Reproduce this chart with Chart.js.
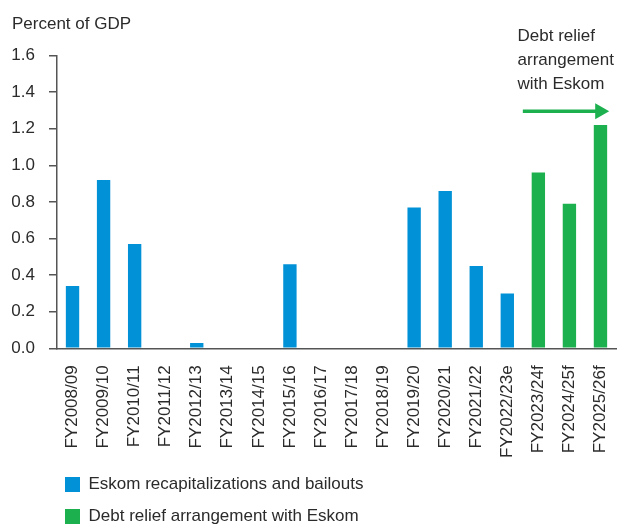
<!DOCTYPE html>
<html>
<head>
<meta charset="utf-8">
<script src="https://cdn.jsdelivr.net/npm/chart.js@4/dist/chart.umd.min.js"></script>
<style>
  html, body { margin: 0; padding: 0; background: #fff; }
  #wrap { width: 619px; height: 525px; }
</style>
</head>
<body>
<div id="wrap"><canvas id="grafico"></canvas></div>
<script>
const categorias = ['FY2008/09', 'FY2009/10', 'FY2010/11', 'FY2011/12', 'FY2012/13', 'FY2013/14',
  'FY2014/15', 'FY2015/16', 'FY2016/17', 'FY2017/18', 'FY2018/19', 'FY2019/20', 'FY2020/21',
  'FY2021/22', 'FY2022/23e', 'FY2023/24f', 'FY2024/25f', 'FY2025/26f'];
const recapitalizacoes = [0.34, 0.92, 0.57, 0, 0.03, 0, 0, 0.46, 0, 0, 0, 0.77, 0.86, 0.45, 0.30, null, null, null];
const alivioDivida = [null, null, null, null, null, null, null, null, null, null, null, null, null, null, null, 0.96, 0.79, 1.22];
const yTicks = [0, 0.2, 0.4, 0.6, 0.8, 1.0, 1.2, 1.4, 1.6];
const notaLinhas = ['Debt relief', 'arrangement', 'with Eskom'];

const AZUL = '#0091d6';
const VERDE = '#1db04f';
const TEXTO = '#2b2b2b';
const EIXO = '#555555';

Chart.defaults.font.family = "'Liberation Sans', Arial, sans-serif";
Chart.defaults.font.size = 17;
Chart.defaults.color = TEXTO;

// seta e texto da nota sobre as previsoes
const notaPlugin = {
  id: 'nota',
  afterDatasetsDraw(chart) {
    const ctx = chart.ctx;
    const x = chart.scales.x, y = chart.scales.y;
    ctx.save();
    ctx.fillStyle = TEXTO;
    ctx.font = "17px 'Liberation Sans', Arial, sans-serif";
    ctx.textAlign = 'left';
    ctx.textBaseline = 'middle';
    const tx = x.getPixelForValue(14.33);
    const ty = y.getPixelForValue(1.705);
    notaLinhas.forEach((l, i) => ctx.fillText(l, tx, ty + i * 24));

    const x0 = x.getPixelForValue(14.5);
    const x1 = x.getPixelForValue(17.28);
    const ay = y.getPixelForValue(1.295);
    ctx.strokeStyle = VERDE;
    ctx.fillStyle = VERDE;
    ctx.lineWidth = 3.5;
    ctx.beginPath();
    ctx.moveTo(x0, ay);
    ctx.lineTo(x1 - 12, ay);
    ctx.stroke();
    ctx.beginPath();
    ctx.moveTo(x1, ay);
    ctx.lineTo(x1 - 14, ay - 8);
    ctx.lineTo(x1 - 14, ay + 8);
    ctx.closePath();
    ctx.fill();
    ctx.restore();
  }
};

// legenda empilhada e deslocada para a direita
const legendaPlugin = {
  id: 'legendaPos',
  afterLayout(chart) {
    chart.legend.left = 50;
    chart.legend.top = 461;
  }
};

new Chart(document.getElementById('grafico'), {
  type: 'bar',
  data: {
    labels: categorias,
    datasets: [{
      label: 'Eskom recapitalizations and bailouts',
      data: recapitalizacoes,
      backgroundColor: AZUL,
      grouped: false,
      barPercentage: 0.43,
      categoryPercentage: 1
    }, {
      label: 'Debt relief arrangement with Eskom',
      data: alivioDivida,
      backgroundColor: VERDE,
      grouped: false,
      barPercentage: 0.43,
      categoryPercentage: 1
    }]
  },
  options: {
    responsive: true,
    maintainAspectRatio: false,
    animation: false,
    layout: { padding: { left: 12, right: 3, top: 0, bottom: -24 } },
    plugins: {
      title: {
        display: true,
        text: 'Percent of GDP',
        align: 'start',
        color: TEXTO,
        font: { size: 17, weight: 'normal' },
        padding: { top: 14, bottom: 21 }
      },
      legend: {
        position: 'bottom',
        align: 'start',
        labels: {
          boxWidth: 15,
          boxHeight: 15,
          padding: 15,
          color: TEXTO,
          font: { size: 17 }
        }
      },
      tooltip: { enabled: false }
    },
    scales: {
      x: {
        afterFit(axis) {
          axis.paddingLeft = 0;
          axis.paddingRight = 0;
        },
        grid: { display: false, drawOnChartArea: false, drawTicks: false },
        border: { color: EIXO, width: 1.5 },
        ticks: { minRotation: 90, maxRotation: 90, padding: 17, autoSkip: false, color: TEXTO }
      },
      y: {
        min: 0,
        max: 1.6,
        afterBuildTicks(axis) {
          axis.ticks = yTicks.map(v => ({ value: v }));
        },
        afterFit(axis) {
          axis.width = 45;
        },
        grid: { drawOnChartArea: false, drawTicks: true, tickLength: 8, color: EIXO, lineWidth: 1.5 },
        border: { color: EIXO, width: 1.5 },
        ticks: {
          padding: 14,
          color: TEXTO,
          callback: v => v.toFixed(1)
        }
      }
    }
  },
  plugins: [notaPlugin, legendaPlugin]
});
</script>
</body>
</html>
